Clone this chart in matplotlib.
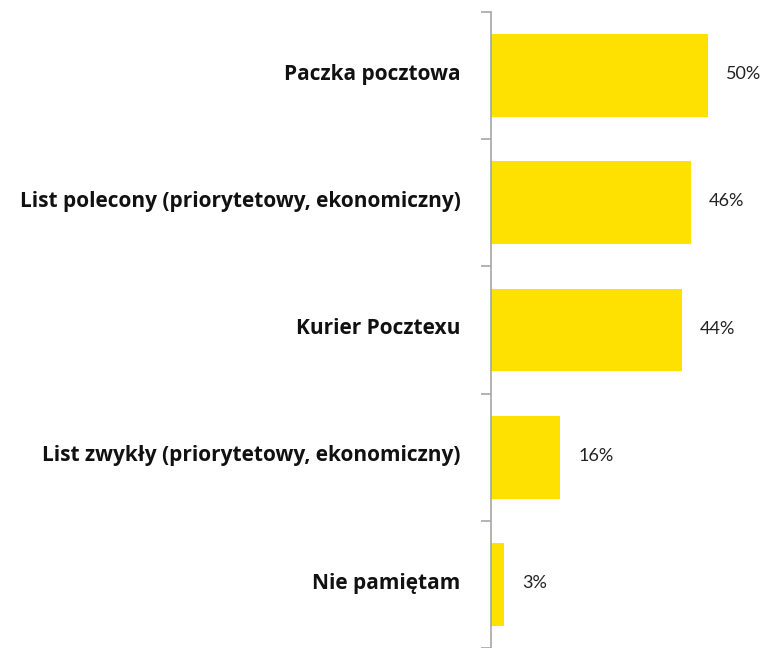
import numpy as np
import matplotlib.pyplot as plt

categories = ["Paczka pocztowa",
              "List polecony (priorytetowy, ekonomiczny)",
              "Kurier Pocztexu",
              "List zwykły (priorytetowy, ekonomiczny)",
              "Nie pamiętam"]
values = [50, 46, 44, 16, 3]

fig = plt.figure(figsize=(7.68, 6.48), dpi=100)
ax = fig.add_axes([491 / 768, 0, 1 - 491 / 768, 1 - 12 / 648])

ind = np.arange(len(categories))
ax.barh(ind, values, height=0.65, color="#FFE100")

ax.set_ylim(len(categories) - 0.5, -0.5)
ax.set_xlim(0, 277 / 4.34)

for s in ["top", "right", "bottom"]:
    ax.spines[s].set_visible(False)
ax.spines["left"].set_color("#A6A6A6")
ax.spines["left"].set_linewidth(1.2)
ax.set_xticks([])

# ticks at category boundaries, labels at centres
ax.set_yticks(np.arange(len(categories) + 1) - 0.5)
ax.set_yticklabels([])
ax.tick_params(axis="y", length=7, width=1.2, color="#A6A6A6", direction="out")

for i, cat in enumerate(categories):
    ax.annotate(cat, xy=(0, i), xycoords=("axes fraction", "data"),
                xytext=(-22, 1), textcoords="offset points",
                ha="right", va="center", fontsize=15, fontweight="bold",
                family="Open Sans", color="#111111")

for i, v in enumerate(values):
    ax.annotate(f"{v}%", xy=(v, i), xytext=(13, 1), textcoords="offset points",
                ha="left", va="center", fontsize=13, family="Lato", color="#222222")

plt.savefig("out.png", dpi=100)
